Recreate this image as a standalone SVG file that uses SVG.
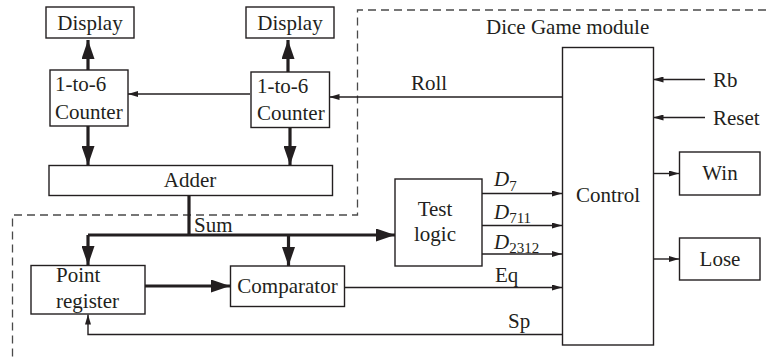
<svg xmlns="http://www.w3.org/2000/svg" width="766" height="358" viewBox="0 0 766 358">
<defs>
<style>
.box{fill:#fff;stroke:#231f20;stroke-width:1.4}
.t{font-family:"Liberation Serif","Times New Roman",serif;font-size:21px;fill:#231f20}
.ti{font-family:"Liberation Serif","Times New Roman",serif;font-size:21px;font-style:italic;fill:#231f20}
.sub{font-size:15px;font-style:normal}
.thin{fill:none;stroke:#231f20;stroke-width:1.4}
.thick{fill:none;stroke:#231f20;stroke-width:3.2}
.dash{fill:none;stroke:#4a4a4a;stroke-width:1.3;stroke-dasharray:8,5}
</style>
<marker id="a" viewBox="0 0 10 6" refX="10" refY="3" markerWidth="10" markerHeight="6" markerUnits="userSpaceOnUse" orient="auto">
<path d="M0,0L10,3L0,6Z" fill="#231f20"/>
</marker>
<marker id="A" viewBox="0 0 19 13" refX="19" refY="6.5" markerWidth="19" markerHeight="13" markerUnits="userSpaceOnUse" orient="auto">
<path d="M0,0L19,6.5L0,13Z" fill="#231f20"/>
</marker>
</defs>
<rect width="766" height="358" fill="#fff"/>
<g id="module-boundary">
<path class="dash" d="M766,10H357.5V215H12.5V358"/>
<text class="t" x="486" y="34">Dice Game module</text>
</g>
<g id="connectors">
<path class="thick" d="M88,70V40" marker-end="url(#A)"/>
<path class="thick" d="M288,72V40" marker-end="url(#A)"/>
<path class="thick" d="M88,126V165" marker-end="url(#A)"/>
<path class="thick" d="M290,127V165" marker-end="url(#A)"/>
<path class="thin" d="M250,94H128" marker-end="url(#a)"/>
<path class="thin" d="M562,97H329.5" marker-end="url(#a)"/>
<path class="thick" d="M189,195V235"/>
<path class="thick" d="M88,235H395" marker-end="url(#A)"/>
<path class="thick" d="M88,235V265" marker-end="url(#A)"/>
<path class="thick" d="M288.5,235V266" marker-end="url(#A)"/>
<path class="thick" d="M145,286H230" marker-end="url(#A)"/>
<path class="thin" d="M345,287.5H562" marker-end="url(#a)"/>
<path class="thin" d="M562,334.5H88V314.5" marker-end="url(#a)"/>
<path class="thin" d="M482,193.5H562" marker-end="url(#a)"/>
<path class="thin" d="M482,225.5H562" marker-end="url(#a)"/>
<path class="thin" d="M482,254H562" marker-end="url(#a)"/>
<path class="thin" d="M705,79.5H653.5" marker-end="url(#a)"/>
<path class="thin" d="M705,117.5H653.5" marker-end="url(#a)"/>
<path class="thin" d="M653,173.5H679" marker-end="url(#a)"/>
<path class="thin" d="M653,259H679" marker-end="url(#a)"/>
<text class="t" x="411" y="90">Roll</text>
<text class="t" x="194" y="232">Sum</text>
<text class="ti" x="494" y="186">D<tspan class="sub" dy="5">7</tspan></text>
<text class="ti" x="494" y="219">D<tspan class="sub" dy="4">711</tspan></text>
<text class="ti" x="494" y="249">D<tspan class="sub" dy="4">2312</tspan></text>
<text class="t" x="495" y="282">Eq</text>
<text class="t" x="508" y="328">Sp</text>
<text class="t" x="713" y="87">Rb</text>
<text class="t" x="713" y="125">Reset</text>
</g>
<g id="display-left"><rect class="box" x="46" y="7" width="88" height="31"/><text class="t" x="90" y="30" text-anchor="middle">Display</text></g>
<g id="display-right"><rect class="box" x="246" y="7" width="88" height="31"/><text class="t" x="290" y="30" text-anchor="middle">Display</text></g>
<g id="counter-left"><rect class="box" x="50" y="70" width="78" height="56"/><text class="t" x="55" y="91">1-to-6</text><text class="t" x="55" y="118.5">Counter</text></g>
<g id="counter-right"><rect class="box" x="251" y="72" width="78.5" height="55.5"/><text class="t" x="257" y="93">1-to-6</text><text class="t" x="257" y="120">Counter</text></g>
<g id="adder"><rect class="box" x="49" y="165.5" width="283.5" height="30"/><text class="t" x="190" y="187" text-anchor="middle">Adder</text></g>
<g id="test-logic"><rect class="box" x="395" y="179" width="87" height="87"/><text class="t" x="435" y="216" text-anchor="middle">Test</text><text class="t" x="435" y="241" text-anchor="middle">logic</text></g>
<g id="point-register"><rect class="box" x="31" y="265.5" width="114" height="48.5"/><text class="t" x="56" y="282">Point</text><text class="t" x="56" y="308">register</text></g>
<g id="comparator"><rect class="box" x="230.5" y="266" width="114" height="40.5"/><text class="t" x="287.5" y="293" text-anchor="middle">Comparator</text></g>
<g id="control"><rect class="box" x="562.5" y="47.5" width="91" height="297.5"/><text class="t" x="608" y="202" text-anchor="middle">Control</text></g>
<g id="win"><rect class="box" x="679.5" y="152" width="80.5" height="43"/><text class="t" x="720" y="180" text-anchor="middle">Win</text></g>
<g id="lose"><rect class="box" x="679.5" y="238" width="80.5" height="42"/><text class="t" x="720" y="266" text-anchor="middle">Lose</text></g>
</svg>
